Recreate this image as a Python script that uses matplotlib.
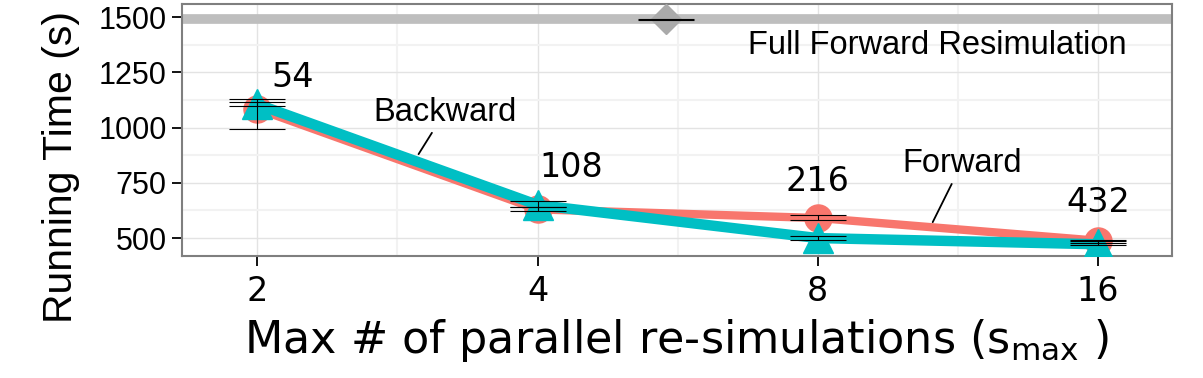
import matplotlib.pyplot as plt
from matplotlib.ticker import NullFormatter
import numpy as np

# data
smax = [2, 4, 8, 16]
fwd_mean = [1085, 630, 591, 488]
fwd_lo = [993, 622, 581, 480]
fwd_hi = [1115, 640, 604, 490]
bwd_mean = [1106, 650, 500, 472]
bwd_lo = [1097, 640, 491, 469]
bwd_hi = [1129, 667, 509, 486]
full_x = [5.5]
full_mean = [1490]
full_lo = [1487]
full_hi = [1493]
count_labels = ["54", "108", "216", "432"]

RED = "#F8766D"
CYAN = "#00BFC4"
GREY = "#BEBEBE"

fig = plt.figure(figsize=(12.03, 3.78), dpi=100)
ax = fig.add_axes([0.1513, 0.3228, 0.8227, 0.6662])

ax.set_xscale("log", base=2)
ax.set_xlim(1.66, 19.2)
ax.set_ylim(419, 1559)

# grid
ax.set_xticks(smax)
ax.set_xticks([2 ** 1.5, 2 ** 2.5, 2 ** 3.5], minor=True)
ax.xaxis.set_minor_formatter(NullFormatter())
ax.set_yticks([500, 750, 1000, 1250, 1500])
ax.set_yticks([625, 875, 1125, 1375], minor=True)
ax.grid(True, which="major", color="#e3e3e3", lw=1.0)
ax.grid(True, which="minor", color="#f2f2f2", lw=1.5)
ax.set_axisbelow(True)
ax.tick_params(which="minor", length=0)

# full forward resimulation
ax.axhline(full_mean[0], color=GREY, lw=7, zorder=2)
ax.plot(full_x, full_mean, "D", color="#aaaaaa", ms=15, zorder=3)


def errs(mean, lo, hi):
    m = np.array(mean)
    return [m - np.array(lo), np.array(hi) - m]


ax.plot(smax, fwd_mean, color=RED, lw=6, zorder=3, solid_capstyle="butt")
ax.plot(smax, fwd_mean, "o", color=RED, ms=19.5, zorder=3)
ax.plot(smax, bwd_mean, color=CYAN, lw=7.5, zorder=4, solid_capstyle="butt")
ax.plot(smax, bwd_mean, "^", color=CYAN, ms=21, zorder=4)

for m, lo, hi, x in [(fwd_mean, fwd_lo, fwd_hi, smax), (bwd_mean, bwd_lo, bwd_hi, smax),
                     (full_mean, full_lo, full_hi, full_x)]:
    ax.errorbar(x, m, yerr=errs(m, lo, hi), fmt="none", ecolor="black",
                elinewidth=0.8, capsize=20, capthick=0.8, zorder=5)

# counts above points
lab_x = [2.07, 4.35, 8.0, 16.0]
lab_y = [1226, 819, 756, 661]
lab_ha = ["left", "center", "center", "center"]
for x, y, s, ha in zip(lab_x, lab_y, count_labels, lab_ha):
    ax.text(x, y, s, fontsize=24, ha=ha, va="center", family="DejaVu Sans")

ax.annotate("Backward", xy=(2.98, 880), xytext=(3.18, 1070), fontsize=23.5,
            family="Liberation Sans", ha="center", va="center",
            arrowprops=dict(arrowstyle="-", color="black", lw=1.3, shrinkA=2, shrinkB=0))
ax.annotate("Forward", xy=(10.63, 572), xytext=(11.43, 839), fontsize=23.5,
            family="Liberation Sans", ha="center", va="center",
            arrowprops=dict(arrowstyle="-", color="black", lw=1.3, shrinkA=2, shrinkB=0))
ax.text(10.74, 1373, "Full Forward Resimulation", fontsize=23.5,
        family="Liberation Sans", ha="center", va="center")

# axes styling
for sp in ax.spines.values():
    sp.set_color("#7f7f7f")
    sp.set_linewidth(1.5)
ax.tick_params(which="major", length=7, width=1.3, color="black")
ax.set_xticklabels([str(v) for v in smax], fontsize=24, family="DejaVu Sans")
ax.set_yticklabels(["500", "750", "1000", "1250", "1500"], fontsize=22,
                   family="Liberation Sans")
ax.tick_params(axis="x", pad=7)
ax.tick_params(axis="y", pad=4)

ax.set_ylabel("Running Time (s)", fontsize=29.5, family="Liberation Sans")
ax.yaxis.set_label_coords(-0.103, 0.353)
ax.set_xlabel(r"Max # of parallel re-simulations ($\mathregular{s_{max}}$ )", fontsize=32,
              family="DejaVu Sans", labelpad=6)

fig.savefig("out.png", dpi=100)
